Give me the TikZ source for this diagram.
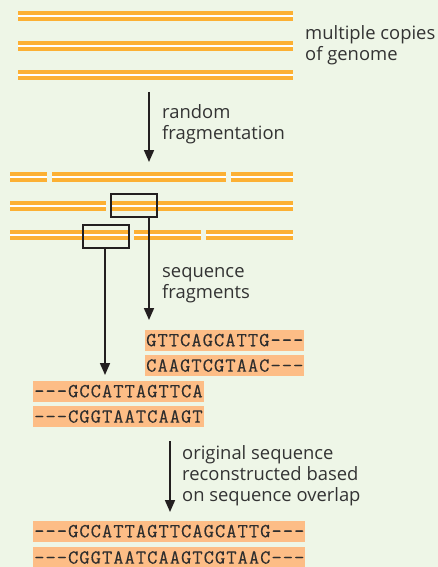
\documentclass[tikz,border=0pt]{standalone}
\usepackage{fontspec}
\setmainfont{Open Sans}
\newfontfamily\seqfont[LetterSpace=5, FakeBold=0.15]{Latin Modern Mono}
\usetikzlibrary{positioning,arrows.meta,calc}
\definecolor{paper}{HTML}{EEF6E7}
\definecolor{strandgold}{HTML}{FCB034}
\definecolor{seqfill}{HTML}{FDBD86}
\definecolor{inkdark}{HTML}{231F20}
\definecolor{inktext}{HTML}{333333}
\tikzset{
  every node/.style={text=inktext},
  strand/.style={draw=strandgold, line width=3.6pt, double=white, double distance=2.4pt},
  pick/.style={draw=inkdark, line width=1.5pt, minimum width=46pt, minimum height=23pt, inner sep=0pt},
  seq/.style={fill=seqfill, anchor=west, font=\seqfont\fontsize{20}{20}\selectfont, text=inktext!90!black,
    minimum height=21pt, inner xsep=1pt, inner ysep=0pt, text height=11.5pt, text depth=0pt},
  flow/.style={-{Triangle[length=12pt, width=10pt]}, line width=1.7pt, draw=inkdark},
  lbl/.style={font=\fontsize{18.4}{21}\selectfont, align=left, anchor=north west, inner sep=0pt},
}

\begin{document}
\begin{tikzpicture}[x=1pt, y=-1pt]
  % background
  \fill[paper] (0,0) rectangle (438,567);
  \useasboundingbox (0,0) rectangle (438,567);

  % 1. whole genome copies
  \foreach \yy in {16,46,75}
    \draw[strand] (18,\yy) -- (293,\yy);
  \node[lbl] (copies) at (305,25) {multiple copies\\of genome};

  % 2. random fragmentation
  \coordinate (fragtop) at (149,92);
  \coordinate (fragtip) at (149,162);
  \draw[flow] (fragtop) -- (fragtip);
  \node[lbl] (randfrag) at (162,104) {random\\fragmentation};

  % fragments: row, start, end
  \foreach \yy/\xa/\xb in {177/10/47, 177/52/226, 177/231/293,
                           206/10/106, 206/111/293,
                           235/10/129, 235/134/201, 235/206/293}
    \draw[strand] (\xa,\yy) -- (\xb,\yy);

  % picked fragments
  \node[pick] (pickA) at (134,205.5) {};
  \node[pick] (pickB) at (106,236.5) {};

  % 3. sequence fragments
  \coordinate (seqtipA) at (149,320);
  \coordinate (seqtipB) at (105,375);
  \draw[flow] (pickA.south -| seqtipA) -- (seqtipA);
  \draw[flow] (pickB.south -| seqtipB) -- (seqtipB);
  \node[lbl] (seqfrag) at (162,267.5) {sequence\\fragments};

  \node[seq] (readA1) at (145,340.5) {GTTCAGCATTG---};
  \node[seq, below=4pt of readA1.south west, anchor=north west] (readA2) {CAAGTCGTAAC---};
  \node[seq] (readB1) at (33,391.5) {---GCCATTAGTTCA};
  \node[seq, below=4pt of readB1.south west, anchor=north west] (readB2) {---CGGTAATCAAGT};

  % 4. reassembly by overlap
  \coordinate (joinsrc) at (170,441);
  \coordinate (jointip) at (170,512);
  \draw[flow] (joinsrc) -- (jointip);
  \node[lbl] (overlap) at (182,445) {original sequence\\reconstructed based\\on sequence overlap};

  \node[seq] (fullA) at (33,531.5) {---GCCATTAGTTCAGCATTG---};
  \node[seq, below=5pt of fullA.south west, anchor=north west] (fullB) {---CGGTAATCAAGTCGTAAC---};
\end{tikzpicture}
\end{document}
